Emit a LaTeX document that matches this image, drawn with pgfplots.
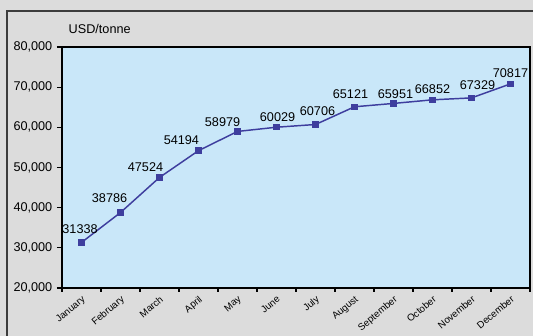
\documentclass[border=0pt]{standalone}
\usepackage{fontspec}
\setmainfont{Liberation Sans}
\usepackage{pgfplots}
\usepackage{pgfplotstable}
\pgfplotsset{compat=1.18}
\definecolor{pagegrey}{RGB}{220,220,220}
\definecolor{plotblue}{RGB}{201,231,249}
\definecolor{seriesblue}{RGB}{62,62,158}
\definecolor{framegrey}{RGB}{60,60,60}

% month index, price, label text, label offsets (pt)
\pgfplotstableread{
x  y      label  dx     dy
0  31338  31338  -1.1   6.8
1  38786  38786  -8.2   7.5
2  47524  47524  -10.5  4.5
3  54194  54194  -12.8  4.5
4  58979  58979  -11.2  3.8
5  60029  60029  0.8    4.5
6  60706  60706  1.5    6.8
7  65121  65121  -3.0   6.0
8  65951  65951  1.5    3.8
9  66852  66852  0.0    4.5
10 67329  67329  4.5    6.0
11 70817  70817  0.0    4.5
}\pricetable

\begin{document}
\begin{tikzpicture}
\useasboundingbox (0,0) rectangle (399.75pt,252pt);
\fill[pagegrey] (0,0) rectangle (399.75pt,252pt);
\draw[framegrey, line width=1.1pt] (5.25pt,-2pt) -- (5.25pt,243.75pt) -- (402pt,243.75pt);
\node[anchor=base west, font=\fontsize{9.5}{11}\selectfont] at (48pt,226.5pt) {USD/tonne};
\begin{axis}[
  at={(46.5pt,36pt)}, anchor=south west,
  scale only axis, width=351pt, height=180.75pt,
  xmin=-0.5, xmax=11.5, ymin=20000, ymax=80000,
  ytick={20000,30000,40000,50000,60000,70000,80000},
  scaled y ticks=false,
  yticklabel style={font=\fontsize{9.5}{11}\selectfont, /pgf/number format/1000 sep={,}, /pgf/number format/assume math mode=true},
  xtick={0,...,11},
  xticklabels={January,February,March,April,May,June,July,August,September,October,November,December},
  xticklabel style={font=\fontsize{7.3}{8}\selectfont, rotate=40, anchor=north east, inner sep=1pt},
  minor xtick={-0.5,0.5,...,11.5},
  major x tick style={draw=none},
  minor tick length=3pt,
  major tick length=3.75pt,
  tick align=outside,
  xtick pos=bottom, ytick pos=left,
  tick style={line width=0.8pt, black},
  axis background/.style={fill=plotblue},
  axis line style={line width=1.1pt},
  clip=false,
]
\addplot[seriesblue, line width=1.1pt, mark=square*, mark size=1.9pt, mark options={seriesblue},
  point meta=explicit symbolic,
  visualization depends on={\thisrow{dx} \as \labdx},
  visualization depends on={\thisrow{dy} \as \labdy},
  nodes near coords,
  every node near coord/.append style={anchor=base, xshift=\labdx pt, yshift=\labdy pt,
    font=\fontsize{9.5}{11}\selectfont, text=black, inner sep=0pt},
] table[x=x, y=y, meta=label] {\pricetable};
\end{axis}
\end{tikzpicture}
\end{document}
